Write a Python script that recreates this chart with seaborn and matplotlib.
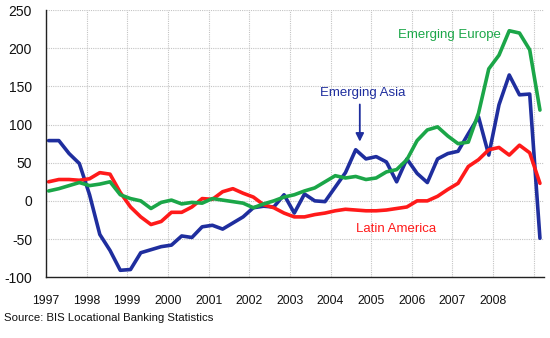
import numpy as np
import pandas as pd
import matplotlib
matplotlib.use("Agg")
import matplotlib.pyplot as plt
import seaborn as sns

# Quarterly observations, 1997 – end 2008
emerging_asia = [79, 79, 62, 49, 8, -44, -65, -91, -90, -68, -64, -60, -58, -46, -48,
                 -34, -32, -37, -29, -21, -9, -7, -8, 8, -16, 9, 0, -1, 18, 37,
                 67, 55, 58, 51, 25, 55, 36, 24, 55, 62, 65, 88, 110, 60, 126,
                 165, 139, 140, -49]
emerging_europe = [13, 16, 20, 24, 20, 22, 25, 8, 3, 0, -10, -2, 1, -4, -2,
                   -3, 3, 1, -1, -3, -9, -4, 0, 5, 8, 13, 17, 25, 33, 30,
                   32, 28, 30, 38, 41, 54, 79, 93, 97, 85, 75, 77, 115, 173, 191,
                   223, 220, 198, 119]
latin_america = [25, 28, 28, 27, 29, 37, 35, 11, -8, -21, -31, -27, -15, -15, -8,
                 3, 2, 12, 16, 10, 5, -5, -9, -16, -21, -21, -18, -16, -13, -11,
                 -12, -13, -13, -12, -10, -8, 0, 0, 6, 15, 23, 45, 54, 67, 70,
                 60, 73, 63, 23]
series_names = ["Emerging Asia", "Emerging Europe", "Latin America"]
year_ticks = list(range(1997, 2009))
y_ticks = [-100, -50, 0, 50, 100, 150, 200, 250]
source_text = "Source: BIS Locational Banking Statistics"

n = len(emerging_asia)
t = 1997.065 + np.arange(n) * 0.2518

df = pd.DataFrame({
    "t": np.concatenate([t, t, t]),
    "value": emerging_asia + emerging_europe + latin_america,
    "series": np.repeat(series_names, n),
})

colors = {"Emerging Asia": "#1F2E9E", "Emerging Europe": "#1BA648", "Latin America": "#FF1A1A"}

sns.set_style("white")
plt.rcParams["font.family"] = ["Liberation Sans", "DejaVu Sans"]

fig = plt.figure(figsize=(5.5, 3.38), dpi=100)
ax = fig.add_axes([0.0836, 0.180, 0.989 - 0.0836, 0.970 - 0.180])

sns.lineplot(data=df, x="t", y="value", hue="series", palette=colors,
             linewidth=2.6, legend=False, ax=ax, estimator=None, sort=False)
for line in ax.get_lines():
    if line.get_color().lower() == colors["Emerging Europe"].lower():
        line.set_zorder(3)

ax.set_xlim(1997, 2009.25)
ax.set_ylim(-100, 250)
ax.set_xticks(year_ticks + [2009])
ax.set_xticklabels([str(y) for y in year_ticks] + [""])
ax.set_yticks(y_ticks)
ax.set_yticklabels([str(v) for v in y_ticks])
ax.set_xlabel("")
ax.set_ylabel("")

ax.grid(True, linestyle=(0, (1, 1)), color="#C4C4C4", linewidth=0.8)
ax.set_axisbelow(True)
for side in ["top", "right"]:
    ax.spines[side].set_visible(False)
for side in ["left", "bottom"]:
    ax.spines[side].set_color("#222222")
    ax.spines[side].set_linewidth(1.0)

ax.tick_params(axis="y", direction="in", length=3, width=1, color="#222222",
               labelsize=10, pad=10, labelcolor="#111111")
ax.tick_params(axis="x", direction="in", length=3, width=1, color="#222222",
               labelsize=8.8, pad=13, labelcolor="#111111")

ax.text(2006.93, 217, "Emerging Europe", color=colors["Emerging Europe"], fontsize=9.5,
        ha="center", va="center")
ax.text(2004.8, 141, "Emerging Asia", color=colors["Emerging Asia"], fontsize=9.5,
        ha="center", va="center")
ax.text(2005.61, -37, "Latin America", color=colors["Latin America"], fontsize=9.5,
        ha="center", va="center")
ax.annotate("", xy=(2004.72, 74), xytext=(2004.72, 130),
            arrowprops=dict(arrowstyle="-|>", color=colors["Emerging Asia"], lw=1.3,
                            mutation_scale=12))

fig.text(0.008, 0.058, source_text, fontsize=8.2, color="#111111", ha="left", va="center")

fig.savefig("out.png", dpi=100)
